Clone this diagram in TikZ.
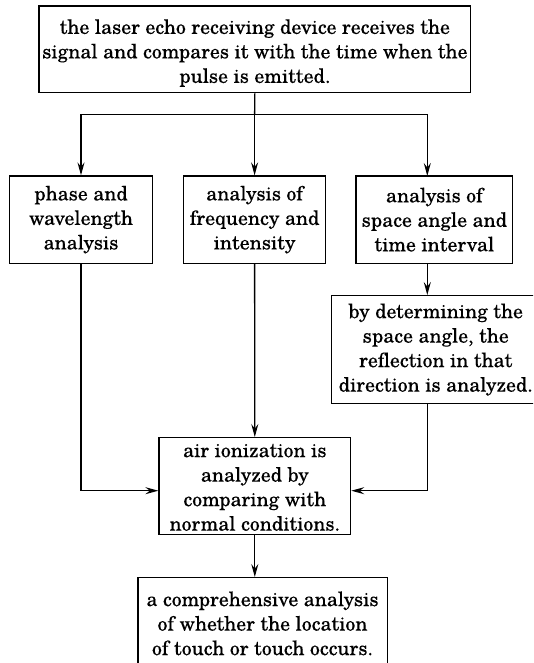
\documentclass[tikz,border=0pt]{standalone}
\usepackage{fontspec}
\setmainfont[FakeBold=0.15]{TeX Gyre Schola}
\usetikzlibrary{arrows.meta}
\begin{document}
\begin{tikzpicture}[x=1pt,y=-1pt,
  box/.style={draw, line width=1.3pt, rectangle, inner sep=0pt, align=center,
    font=\fontsize{19.8}{24.5}\selectfont},
  arr/.style={line width=1.3pt, -{Stealth[length=13pt,width=7pt,inset=4.5pt]}}]
\useasboundingbox (0,0) rectangle (533,663);
\begin{scope}
\clip (0,0) rectangle (533,663);
\node[box, minimum width=431.7pt, minimum height=86.7pt] (top) at (254.85,49.35)
  {\rule{0pt}{22pt}the laser echo receiving device receives the\\signal and compares it with the time when the\\pulse is emitted.};
\node[box, minimum width=143.4pt, minimum height=87.3pt] (left) at (81,219.65)
  {phase and\\wavelength\\analysis};
\node[box, minimum width=142.1pt, minimum height=87.3pt] (mid) at (254.6,219.65)
  {analysis of\\frequency and\\intensity};
\node[box, minimum width=156.7pt, minimum height=87.3pt] (right) at (434.35,219.65)
  {analysis of\\space angle and\\time interval};
\node[box, minimum width=208.5pt, minimum height=107.8pt] (box2) at (435.75,349.6)
  {by determining the\\space angle, the\\reflection in that\\direction is analyzed.};
\node[box, minimum width=191.6pt, minimum height=96.6pt] (ctr) at (254.8,486)
  {\rule{0pt}{16pt}air ionization is\\analyzed by\\comparing with\\normal conditions.};
\node[box, minimum width=249.3pt, minimum height=90pt] (bot) at (262.5,622.7)
  {\rule{0pt}{16pt}a comprehensive analysis\\of whether the location\\of touch or touch occurs.};
\coordinate (bar) at (254.6,114.5);
\coordinate (rcol) at (427.3,176);
\draw[line width=1.3pt] (top.south) -- (bar);
\draw[arr] (bar) -- (mid.north);
\draw[arr] (bar) -| (left.north);
\draw[arr] (bar) -| (rcol);
\draw[arr] (right.south -| rcol) -- (box2.north -| rcol);
\draw[arr] (left.south) |- ([yshift=-4.7pt]ctr.west);
\draw[arr] (box2.south -| rcol) |- ([yshift=-4.7pt]ctr.east);
\draw[arr] (mid.south) -- (ctr.north);
\draw[arr] (ctr.south) -- (ctr.south |- bot.north);
\end{scope}
\end{tikzpicture}
\end{document}
